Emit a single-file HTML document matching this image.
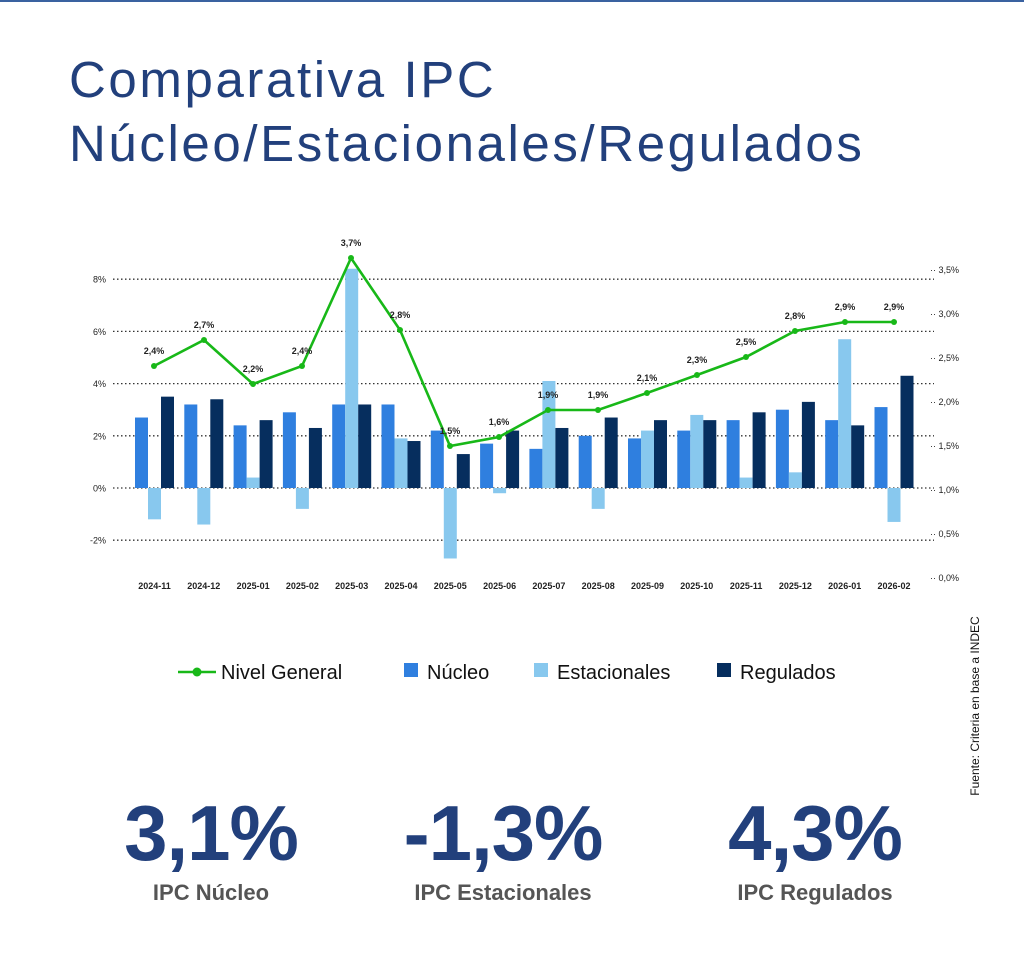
<!DOCTYPE html><html><head><style>
body{margin:0;width:1024px;height:953px;background:#fff;font-family:"Liberation Sans",sans-serif;position:relative;overflow:hidden}
.t{position:absolute;left:69px;color:#22407c;font-size:51px;font-weight:normal;letter-spacing:2.6px}
.big{position:absolute;top:788px;width:300px;text-align:center;font-size:78px;font-weight:bold;color:#22407c;letter-spacing:-1px}
.lab{position:absolute;top:880px;width:300px;text-align:center;font-size:22px;font-weight:bold;color:#555}
</style></head><body>
<div style="position:absolute;left:0;top:0;width:1024px;height:2px;background:#3a62a0"></div>
<div class="t" style="top:50px">Comparativa IPC</div>
<div class="t" style="top:114px">Núcleo/Estacionales/Regulados</div>
<svg id="c" width="1024" height="953" style="position:absolute;left:0;top:0"></svg>
<div class="big" style="left:61px">3,1%</div>
<div class="big" style="left:353px">-1,3%</div>
<div class="big" style="left:665px">4,3%</div>
<div class="lab" style="left:61px">IPC Núcleo</div>
<div class="lab" style="left:353px">IPC Estacionales</div>
<div class="lab" style="left:665px">IPC Regulados</div>
<script>
var s='';
var y0=488,k=26.1;
[-2,0,2,4,6,8].forEach(function(v){var y=y0-v*k;s+='<line x1="113" x2="934" y1="'+y+'" y2="'+y+'" stroke="#333" stroke-width="1.3" stroke-dasharray="1.5,2.5"/><text x="106" y="'+(y+3.5)+'" font-size="9" text-anchor="end" fill="#222">'+v+'%</text>';});
['3,5%','3,0%','2,5%','2,0%','1,5%','1,0%','0,5%','0,0%'].forEach(function(t,i){var y=270+i*44;s+='<text x="930" y="'+(y+3)+'" font-size="9" fill="#222">·· '+t+'</text>';});
var N=[2.7,3.2,2.4,2.9,3.2,3.2,2.2,1.7,1.5,2.0,1.9,2.2,2.6,3.0,2.6,3.1],
E=[-1.2,-1.4,0.4,-0.8,8.4,1.9,-2.7,-0.2,4.1,-0.8,2.2,2.8,0.4,0.6,5.7,-1.3],
R=[3.5,3.4,2.6,2.3,3.2,1.8,1.3,2.2,2.3,2.7,2.6,2.6,2.9,3.3,2.4,4.3],
L=['2024-11','2024-12','2025-01','2025-02','2025-03','2025-04','2025-05','2025-06','2025-07','2025-08','2025-09','2025-10','2025-11','2025-12','2026-01','2026-02'];
function bar(x,v,c){var y=v>=0?y0-v*k:y0,h=Math.abs(v)*k;s+='<rect x="'+x+'" y="'+y+'" width="13" height="'+h+'" fill="'+c+'"/>';}
for(var i=0;i<16;i++){var cx=154.5+49.3*i;bar(cx-19.5,N[i],'#2f7fdf');bar(cx-6.5,E[i],'#88c8ee');bar(cx+6.5,R[i],'#062e5e');
s+='<text x="'+cx+'" y="589" font-size="9" font-weight="bold" text-anchor="middle" fill="#222">'+L[i]+'</text>';}
var P=[[154,366],[204,340],[253,384],[302,366],[351,258],[400,330],[450,446],[499,437],[548,410],[598,410],[647,393],[697,375],[746,357],[795,331],[845,322],[894,322]],
V=['2,4%','2,7%','2,2%','2,4%','3,7%','2,8%','1,5%','1,6%','1,9%','1,9%','2,1%','2,3%','2,5%','2,8%','2,9%','2,9%'];
s+='<polyline fill="none" stroke="#18b818" stroke-width="2.6" points="'+P.map(function(p){return p.join(',')}).join(' ')+'"/>';
P.forEach(function(p,i){s+='<circle cx="'+p[0]+'" cy="'+p[1]+'" r="3" fill="#18b818"/><text x="'+p[0]+'" y="'+(p[1]-12)+'" font-size="9" font-weight="bold" text-anchor="middle" fill="#222">'+V[i]+'</text>';});
s+='<line x1="178" x2="216" y1="672" y2="672" stroke="#18b818" stroke-width="2.6"/><circle cx="197" cy="672" r="4.5" fill="#18b818"/><text x="221" y="679" font-size="20" fill="#111">Nivel General</text>';
s+='<rect x="404" y="663" width="14" height="14" fill="#2f7fdf"/><text x="427" y="679" font-size="20" fill="#111">Núcleo</text>';
s+='<rect x="534" y="663" width="14" height="14" fill="#88c8ee"/><text x="557" y="679" font-size="20" fill="#111">Estacionales</text>';
s+='<rect x="717" y="663" width="14" height="14" fill="#062e5e"/><text x="740" y="679" font-size="20" fill="#111">Regulados</text>';
s+='<text transform="translate(979,706) rotate(-90)" font-size="12" text-anchor="middle" fill="#111">Fuente: Criteria en base a INDEC</text>';
document.getElementById('c').innerHTML=s;
</script>
</body></html>
